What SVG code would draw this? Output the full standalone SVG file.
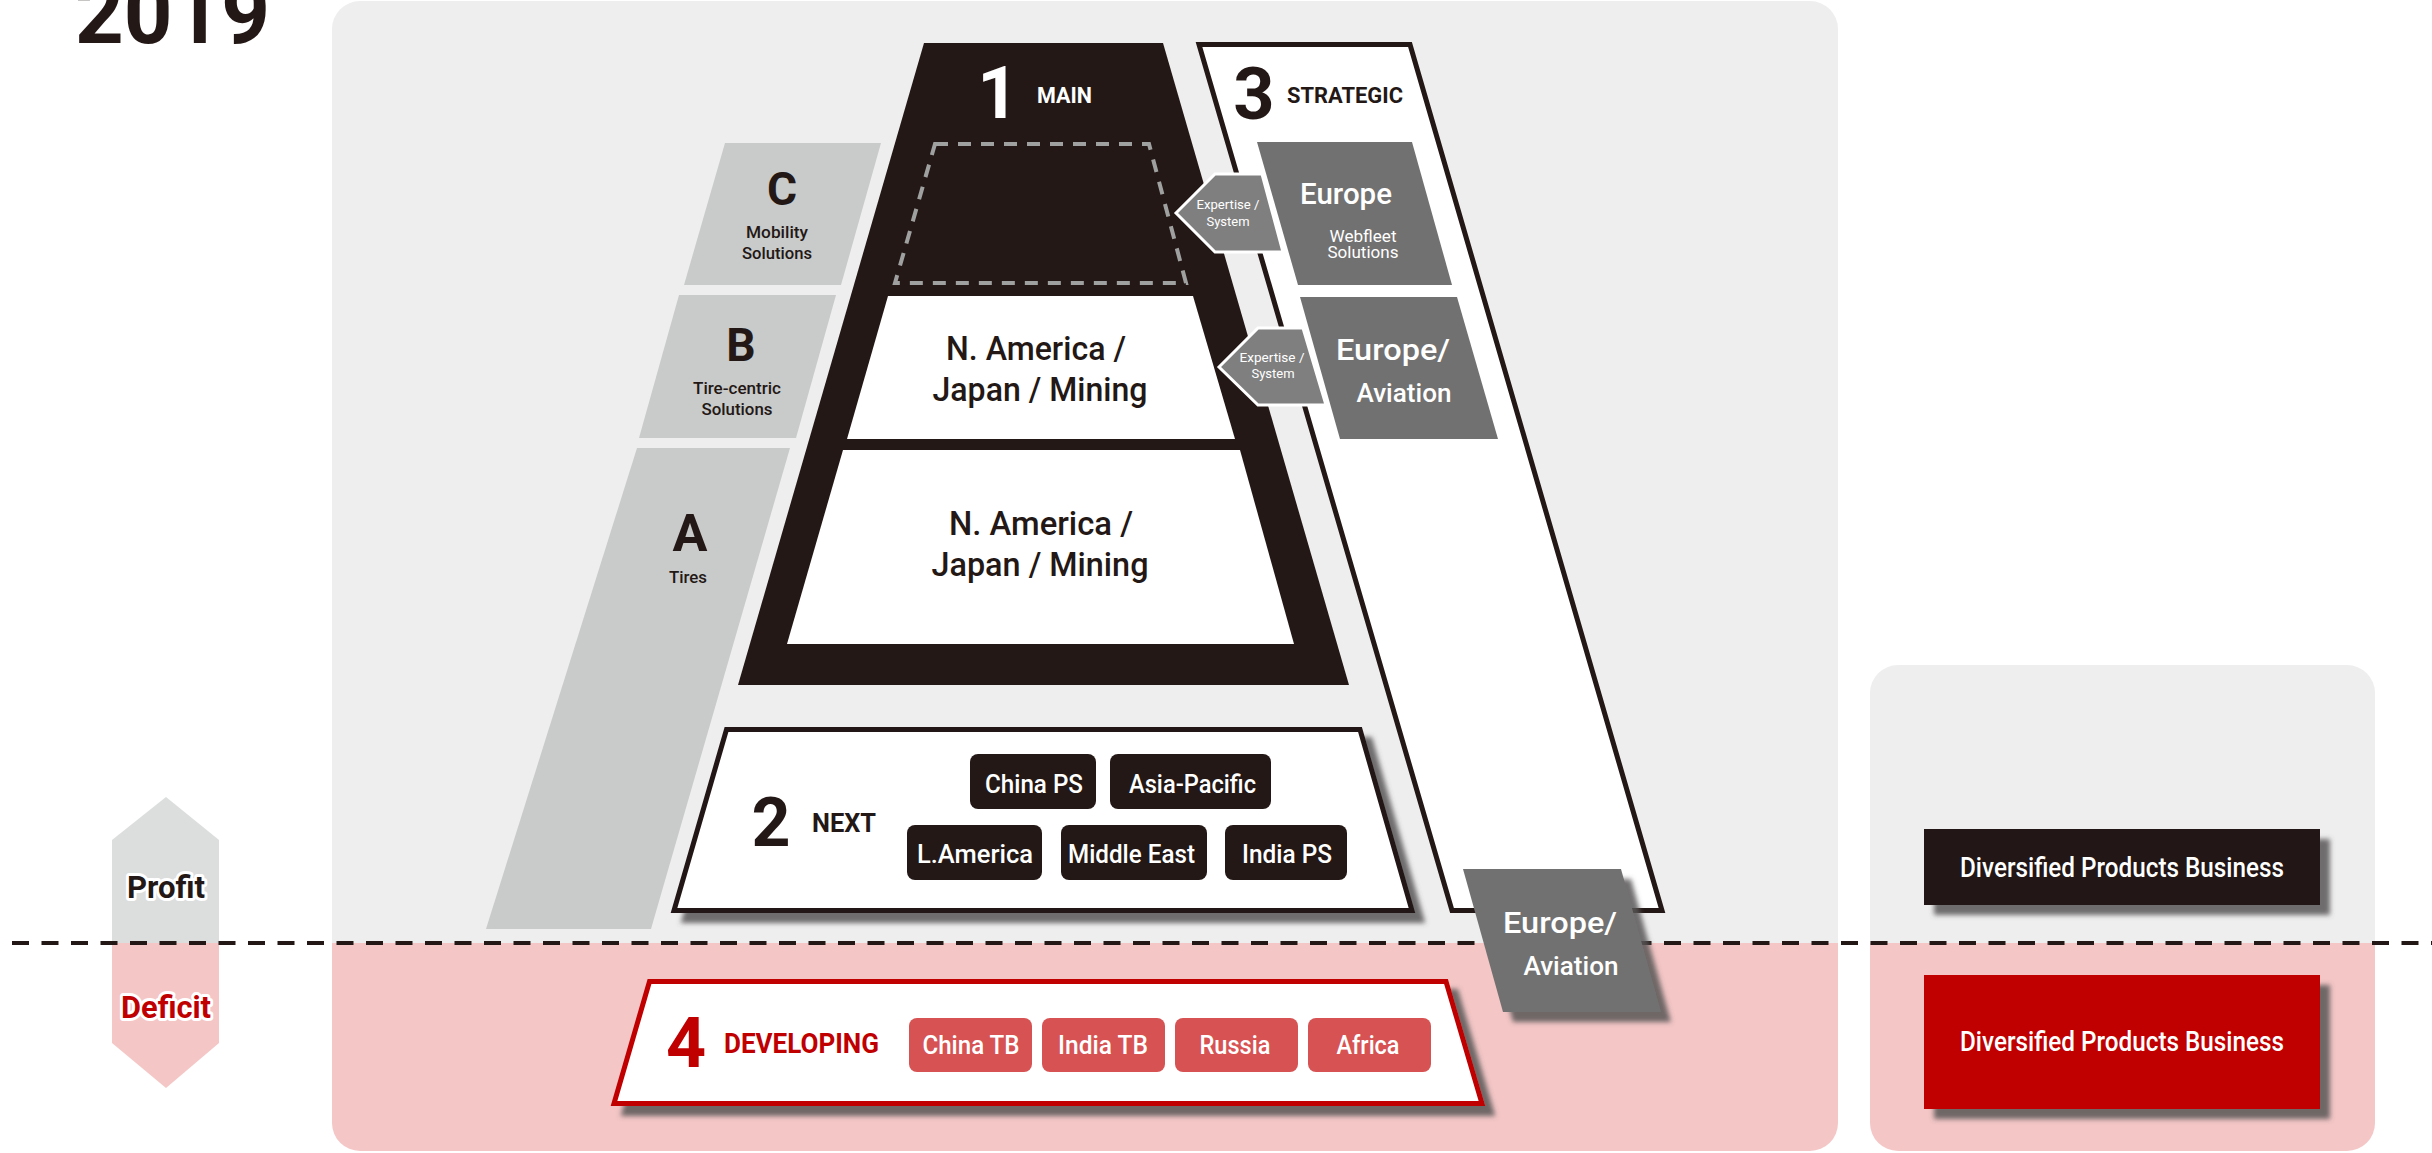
<svg xmlns="http://www.w3.org/2000/svg" width="2432" height="1153" viewBox="0 0 2432 1153">
  <defs>
    <!-- profit band (grey) above the break-even line, deficit band (pink) below -->
    <linearGradient id="bandFill" gradientUnits="userSpaceOnUse" x1="0" y1="0" x2="0" y2="1153">
      <stop offset="0.8179" stop-color="#eeeeee"/>
      <stop offset="0.8179" stop-color="#f4c6c6"/>
    </linearGradient>
    <filter id="shadow" x="-10%" y="-10%" width="130%" height="140%">
      <feDropShadow dx="10" dy="10" stdDeviation="2.5" flood-color="#595757" flood-opacity="0.85"/>
    </filter>
  </defs>
  <style>
    text { font-family: Roboto, "DejaVu Sans", "Liberation Sans", sans-serif; }
    .b { font-weight: 700; }
    .m { font-weight: 500; }
    .r { font-weight: 400; }
    .c { text-anchor: middle; }
    .dark { fill: #231815; }
    .white { fill: #ffffff; }
    .red { fill: #c00000; }
    .tier { fill: #c9caca; }
    .gbox { fill: #727171; }
    .chip { fill: #231815; }
    .rchip { fill: #d75252; }
    .outlined { stroke: #ffffff; stroke-width: 6; stroke-linejoin: round; paint-order: stroke; }
    .big { font-size: 72px; font-weight: 700; }
    .head { font-size: 22px; font-weight: 700; }
    .region { font-size: 33px; font-weight: 500; fill: #231815; }
    .chiptext { font-size: 25px; font-weight: 500; fill: #ffffff; text-anchor: middle; }
    .exp { font-size: 12px; font-weight: 400; fill: #ffffff; text-anchor: middle; }
  </style>

  <!-- year heading -->
  <g id="year">
    <text x="75" y="43" class="b dark" font-size="88" textLength="195" lengthAdjust="spacingAndGlyphs">2019</text>
  </g>

  <!-- background panels -->
  <g id="panel-core">
    <rect x="332" y="1" width="1506" height="1150" rx="28" fill="url(#bandFill)"/>
  </g>
  <g id="panel-diversified">
    <rect x="1870" y="665" width="505" height="486" rx="28" fill="url(#bandFill)"/>
  </g>

  <!-- profit / deficit scale -->
  <g id="profit-deficit">
    <polygon points="166,797 219,840 219,943 112,943 112,840" fill="#dcdddd"/>
    <polygon points="112,943 219,943 219,1043 166,1088 112,1043" fill="#f4c6c6"/>
    <text x="166" y="898" class="b c dark outlined" font-size="32" textLength="78" lengthAdjust="spacingAndGlyphs">Profit</text>
    <text x="166" y="1018" class="b c red outlined" font-size="32" textLength="90" lengthAdjust="spacingAndGlyphs">Deficit</text>
  </g>

  <!-- break-even line -->
  <g id="break-even-line">
    <line x1="12" y1="943" x2="2432" y2="943" stroke="#231815" stroke-width="4" stroke-dasharray="17 12.5"/>
  </g>

  <!-- business domain tiers -->
  <g id="tier-c">
    <polygon class="tier" points="725,143 881,143 841,285 684,285"/>
    <text x="782" y="205" class="b c dark" font-size="46">C</text>
    <text x="777" y="238" class="m c dark" font-size="16" textLength="62" lengthAdjust="spacingAndGlyphs">Mobility</text>
    <text x="777" y="259" class="m c dark" font-size="16" textLength="70" lengthAdjust="spacingAndGlyphs">Solutions</text>
  </g>
  <g id="tier-b">
    <polygon class="tier" points="679,295 836,295 796,438 639,438"/>
    <text x="741" y="361" class="b c dark" font-size="46">B</text>
    <text x="737" y="394" class="m c dark" font-size="16" textLength="88" lengthAdjust="spacingAndGlyphs">Tire-centric</text>
    <text x="737" y="415" class="m c dark" font-size="16" textLength="71" lengthAdjust="spacingAndGlyphs">Solutions</text>
  </g>
  <g id="tier-a">
    <polygon class="tier" points="637,448 790,448 651,929 486,929"/>
    <text x="690" y="551" class="b c dark" font-size="52">A</text>
    <text x="688" y="583" class="m c dark" font-size="16" textLength="38" lengthAdjust="spacingAndGlyphs">Tires</text>
  </g>

  <!-- 1 MAIN -->
  <g id="main">
    <polygon points="924,43 1163,43 1349,685 738,685" fill="#231815"/>
    <text x="998" y="118" class="big c white">1</text>
    <text x="1037" y="103" class="head white" textLength="55" lengthAdjust="spacingAndGlyphs">MAIN</text>
    <polygon points="935,144 1149,144 1186,283 895,283" fill="none" stroke="#9fa0a0" stroke-width="4" stroke-dasharray="13 10"/>
    <g id="main-upper">
      <polygon points="888,296 1193,296 1235,439 847,439" fill="#ffffff"/>
      <text x="1036" y="360" class="region c" textLength="180" lengthAdjust="spacingAndGlyphs">N. America /</text>
      <text x="1040" y="401" class="region c" textLength="215" lengthAdjust="spacingAndGlyphs">Japan / Mining</text>
    </g>
    <g id="main-lower">
      <polygon points="843,450 1240,450 1294,644 787,644" fill="#ffffff"/>
      <text x="1041" y="535" class="region c" textLength="184" lengthAdjust="spacingAndGlyphs">N. America /</text>
      <text x="1040" y="576" class="region c" textLength="217" lengthAdjust="spacingAndGlyphs">Japan / Mining</text>
    </g>
  </g>

  <!-- 3 STRATEGIC -->
  <g id="strategic">
    <polygon points="1199,44.5 1410,44.5 1662,910.5 1452,910.5" fill="#ffffff" stroke="#231815" stroke-width="5" stroke-linejoin="miter"/>
    <text x="1254" y="119" class="big c dark">3</text>
    <text x="1287" y="103" class="head dark" textLength="116" lengthAdjust="spacingAndGlyphs">STRATEGIC</text>
  </g>
  <g id="europe-webfleet">
    <polygon class="gbox" points="1257,142 1412,142 1452,285 1298,285"/>
    <text x="1346" y="204" class="m c white" font-size="30" textLength="92" lengthAdjust="spacingAndGlyphs">Europe</text>
    <text x="1363" y="242" class="r c white" font-size="17" textLength="67" lengthAdjust="spacingAndGlyphs">Webfleet</text>
    <text x="1363" y="258" class="r c white" font-size="17" textLength="71" lengthAdjust="spacingAndGlyphs">Solutions</text>
  </g>
  <g id="europe-aviation">
    <polygon class="gbox" points="1300,297 1457,297 1498,439 1340,439"/>
    <text x="1393" y="360" class="m c white" font-size="30" textLength="114" lengthAdjust="spacingAndGlyphs">Europe/</text>
    <text x="1404" y="402" class="m c white" font-size="25" textLength="95" lengthAdjust="spacingAndGlyphs">Aviation</text>
  </g>

  <!-- expertise / system transfer from strategic into main -->
  <g id="connectors">
    <g id="expertise-webfleet">
      <polygon points="1176,213 1215,174 1262,174 1283,252 1215,252" fill="#7f7f7f" stroke="#ffffff" stroke-width="3" stroke-linejoin="miter"/>
      <text x="1228" y="209" class="exp" textLength="63" lengthAdjust="spacingAndGlyphs">Expertise /</text>
      <text x="1228" y="226" class="exp" textLength="43" lengthAdjust="spacingAndGlyphs">System</text>
    </g>
    <g id="expertise-aviation">
      <polygon points="1219,367 1258,328 1303,328 1326,405 1258,405" fill="#7f7f7f" stroke="#ffffff" stroke-width="3" stroke-linejoin="miter"/>
      <text x="1272" y="362" class="exp" textLength="65" lengthAdjust="spacingAndGlyphs">Expertise /</text>
      <text x="1273" y="378" class="exp" textLength="43" lengthAdjust="spacingAndGlyphs">System</text>
    </g>
  </g>

  <!-- 2 NEXT -->
  <g id="next">
    <polygon points="726.5,729.5 1360,729.5 1412,910.5 674,910.5" fill="#ffffff" stroke="#231815" stroke-width="5" filter="url(#shadow)"/>
    <text x="771" y="846" class="b c dark" font-size="68">2</text>
    <text x="812" y="832" class="b dark" font-size="26" textLength="64" lengthAdjust="spacingAndGlyphs">NEXT</text>
    <rect class="chip" x="970" y="754" width="126" height="55" rx="8"/>
    <text x="1034" y="793" class="chiptext" textLength="98" lengthAdjust="spacingAndGlyphs">China PS</text>
    <rect class="chip" x="1110" y="754" width="161" height="55" rx="8"/>
    <text x="1192.5" y="793" class="chiptext" textLength="127" lengthAdjust="spacingAndGlyphs">Asia-Pacific</text>
    <rect class="chip" x="907" y="825" width="135" height="55" rx="8"/>
    <text x="975" y="863" class="chiptext" textLength="116" lengthAdjust="spacingAndGlyphs">L.America</text>
    <rect class="chip" x="1061" y="825" width="146" height="55" rx="8"/>
    <text x="1131.5" y="863" class="chiptext" textLength="127" lengthAdjust="spacingAndGlyphs">Middle East</text>
    <rect class="chip" x="1225" y="825" width="122" height="55" rx="8"/>
    <text x="1287" y="863" class="chiptext" textLength="90" lengthAdjust="spacingAndGlyphs">India PS</text>
  </g>

  <!-- 4 DEVELOPING -->
  <g id="developing">
    <polygon points="649.5,981.5 1446,981.5 1482,1103.5 614,1103.5" fill="#ffffff" stroke="#c00000" stroke-width="5" filter="url(#shadow)"/>
    <text x="686" y="1067" class="b c red" font-size="70">4</text>
    <text x="724" y="1053" class="b red" font-size="27" textLength="155" lengthAdjust="spacingAndGlyphs">DEVELOPING</text>
    <rect class="rchip" x="909" y="1018" width="123" height="54" rx="8"/>
    <text x="971" y="1054" class="chiptext" textLength="97" lengthAdjust="spacingAndGlyphs">China TB</text>
    <rect class="rchip" x="1042" y="1018" width="123" height="54" rx="8"/>
    <text x="1103" y="1054" class="chiptext" textLength="90" lengthAdjust="spacingAndGlyphs">India TB</text>
    <rect class="rchip" x="1175" y="1018" width="123" height="54" rx="8"/>
    <text x="1235" y="1054" class="chiptext" textLength="71" lengthAdjust="spacingAndGlyphs">Russia</text>
    <rect class="rchip" x="1308" y="1018" width="123" height="54" rx="8"/>
    <text x="1368" y="1054" class="chiptext" textLength="63" lengthAdjust="spacingAndGlyphs">Africa</text>
  </g>

  <!-- Europe / Aviation straddling the break-even line -->
  <g id="europe-aviation-deficit">
    <polygon class="gbox" points="1463,869 1621,869 1661,1012 1503,1012" filter="url(#shadow)"/>
    <text x="1560" y="933" class="m c white" font-size="30" textLength="114" lengthAdjust="spacingAndGlyphs">Europe/</text>
    <text x="1571" y="975" class="m c white" font-size="25" textLength="95" lengthAdjust="spacingAndGlyphs">Aviation</text>
  </g>

  <!-- diversified products -->
  <g id="diversified-profit">
    <rect x="1924" y="829" width="396" height="76" fill="#231815" filter="url(#shadow)"/>
    <text x="2122" y="877" class="m c white" font-size="27" textLength="324" lengthAdjust="spacingAndGlyphs">Diversified Products Business</text>
  </g>
  <g id="diversified-deficit">
    <rect x="1924" y="975" width="396" height="134" fill="#c00000" filter="url(#shadow)"/>
    <text x="2122" y="1051" class="m c white" font-size="27" textLength="324" lengthAdjust="spacingAndGlyphs">Diversified Products Business</text>
  </g>
</svg>
